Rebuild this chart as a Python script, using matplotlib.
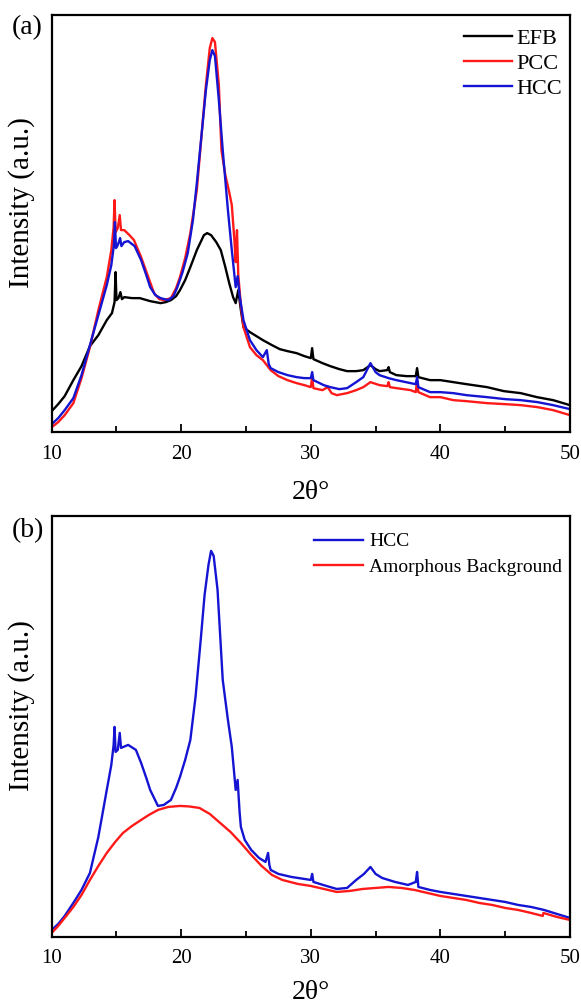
import numpy as np
import matplotlib
matplotlib.use("Agg")
import matplotlib.pyplot as plt
from matplotlib.ticker import MultipleLocator

plt.rcParams['font.family'] = ['Liberation Serif', 'DejaVu Serif']

# (a) XRD patterns, 2theta (deg) vs intensity (a.u.)
efb_x = [10.0, 10.5, 11.0, 11.67, 12.3, 12.95, 13.6, 14.25, 14.65, 14.85, 14.93, 15.0, 15.15, 15.3, 15.42,
         15.6, 16.2, 16.8, 17.6, 18.4, 18.8, 19.2, 19.6, 19.9, 20.3, 20.7, 21.2, 21.75, 22.0, 22.3, 22.7,
         23.05, 23.4, 23.7, 24.0, 24.2, 24.4, 24.6, 24.8, 25.3, 25.8, 26.3, 27.0, 27.6, 28.2, 28.9, 29.5,
         30.0, 30.1, 30.2, 30.9, 31.5, 32.2, 32.8, 33.5, 34.05, 34.6, 35.0, 35.3, 35.9, 36.0, 36.1, 36.6,
         37.4, 38.1, 38.2, 38.3, 39.2, 40.0, 41.0, 42.0, 43.6, 44.9, 46.2, 47.45, 48.7, 50.0]
efb_y = [21, 28, 36, 52, 66, 86, 97, 112, 119, 130, 160, 132, 134, 140, 133,
         135, 134, 134, 131, 129, 130, 132, 136, 142, 152, 165, 182, 197, 199, 197, 190,
         182, 165, 149, 135, 129, 142, 122, 105, 100, 96, 92, 87, 83, 81, 79, 76,
         74, 84, 73, 69, 66, 63, 61, 61, 62, 67, 63, 61, 62, 65, 60, 57,
         56, 56, 64, 55, 52, 52, 50, 48, 45, 41, 39, 35, 32, 27]

pcc_x = [10.0, 10.5, 11.0, 11.67, 12.3, 12.95, 13.6, 14.25, 14.6, 14.78, 14.85, 14.93, 15.1, 15.25, 15.35,
         15.6, 16.0, 16.35, 16.9, 17.4, 17.9, 18.3, 18.65, 19.2, 19.6, 19.9, 20.3, 20.7, 21.2, 21.6, 21.9,
         22.2, 22.4, 22.6, 22.9, 23.1, 23.4, 23.7, 23.9, 24.1, 24.2, 24.3, 24.4, 24.6, 24.8, 25.3, 25.8,
         26.3, 26.9, 27.5, 28.2, 28.9, 29.5, 30.0, 30.1, 30.2, 30.9, 31.3, 31.6, 32.0, 32.8, 33.5, 34.05,
         34.6, 35.3, 35.9, 36.0, 36.1, 36.6, 37.7, 38.1, 38.2, 38.3, 39.2, 40.0, 41.0, 42.0, 43.6, 45.0,
         46.2, 47.5, 48.7, 50.0]
pcc_y = [5, 10, 17, 29, 54, 85, 122, 155, 182, 205, 232, 200, 204, 217, 202,
         202, 197, 192, 175, 157, 139, 133, 132, 134, 144, 155, 174, 199, 242, 302, 347,
         384, 394, 390, 347, 282, 257, 240, 227, 192, 170, 202, 157, 127, 105, 85, 77,
         72, 62, 56, 52, 49, 47, 45, 55, 44, 42, 45, 39, 37, 39, 42, 45,
         50, 47, 46, 50, 45, 44, 42, 40, 52, 40, 35, 35, 32, 31, 29, 28,
         27, 25, 22, 17]

hcc_x = [10.0, 10.5, 11.0, 11.67, 12.3, 12.95, 13.6, 14.25, 14.6, 14.8, 14.88, 14.96, 15.1, 15.28, 15.38,
         15.6, 15.9, 16.4, 16.9, 17.3, 17.6, 18.0, 18.4, 19.0, 19.4, 19.7, 20.1, 20.5, 20.9, 21.2, 21.6,
         21.9, 22.2, 22.4, 22.6, 22.9, 23.2, 23.6, 23.9, 24.2, 24.35, 24.5, 24.8, 25.3, 25.8, 26.3, 26.6,
         26.75, 26.9, 27.5, 28.2, 28.9, 29.5, 30.0, 30.1, 30.2, 31.0, 31.5, 32.2, 32.8, 33.5, 34.05, 34.6,
         35.0, 35.3, 36.0, 36.6, 37.7, 38.1, 38.2, 38.3, 39.2, 40.0, 41.0, 42.0, 43.6, 45.0, 46.2, 47.5,
         48.7, 50.0]
hcc_y = [8, 14, 22, 34, 57, 87, 117, 147, 167, 187, 210, 184, 187, 194, 186,
         190, 191, 186, 172, 157, 145, 137, 134, 132, 136, 145, 160, 179, 212, 249, 302,
         342, 372, 382, 376, 332, 282, 222, 182, 145, 156, 137, 112, 92, 82, 75, 82,
         68, 64, 60, 57, 55, 54, 54, 60, 52, 47, 45, 43, 44, 50, 55, 69,
         60, 57, 54, 52, 49, 48, 55, 45, 40, 40, 39, 37, 35, 33, 32, 30,
         27, 23]

# (b) HCC with fitted amorphous background
hccb_x = [10.0, 10.5, 11.0, 11.67, 12.3, 12.95, 13.6, 14.25, 14.6, 14.78, 14.85, 14.93, 15.1, 15.25, 15.35,
          15.9, 16.5, 16.9, 17.3, 17.6, 18.2, 18.65, 19.2, 19.6, 19.9, 20.3, 20.7, 21.1, 21.5, 21.8,
          22.1, 22.3, 22.5, 22.8, 23.2, 23.6, 23.9, 24.2, 24.35, 24.5, 24.6, 24.9, 25.4, 26.0, 26.5,
          26.7, 26.8, 26.9, 27.5, 28.5, 29.5, 30.0, 30.1, 30.2, 31.2, 32.0, 32.8, 33.5, 34.1, 34.6,
          35.0, 35.5, 36.5, 37.5, 38.1, 38.2, 38.3, 39.2, 40.0, 41.0, 42.0, 43.5, 45.0, 46.0, 47.0,
          48.0, 49.0, 50.0]
hccb_y = [7, 13, 21, 34, 47, 64, 100, 147, 172, 192, 210, 185, 187, 204, 189,
          192, 187, 174, 159, 147, 131, 132, 137, 149, 160, 177, 197, 240, 297, 342,
          372, 386, 381, 347, 257, 217, 190, 147, 157, 125, 110, 97, 87, 79, 75,
          84, 72, 67, 63, 60, 58, 57, 63, 55, 51, 48, 49, 57, 63, 70,
          63, 59, 55, 52, 55, 65, 50, 47, 45, 43, 41, 38, 35, 32, 30,
          27, 23, 19]

amor_x = [10.0, 10.5, 11.0, 11.67, 12.3, 12.95, 13.6, 14.25, 14.9, 15.5, 16.2, 16.9, 17.5, 18.2, 19.0,
          19.9, 20.6, 21.4, 22.2, 23.0, 23.8, 24.6, 25.4, 26.2, 27.0, 27.8, 29.0, 30.0, 31.0, 32.0,
          33.0, 34.0, 35.0, 36.0, 37.0, 38.0, 39.0, 40.0, 41.0, 42.0, 43.0, 44.0, 45.0, 46.0, 47.0,
          47.9, 47.95, 49.0, 50.0]
amor_y = [4, 11, 19, 30, 42, 57, 71, 84, 95, 104, 111, 117, 122, 127, 130,
          131, 130.5, 129, 123, 114, 105, 94, 82, 71, 62, 57, 53, 51, 48, 45,
          46, 48, 49, 50, 49, 47, 44, 41, 39, 37, 34, 32, 29, 27, 24,
          21, 24, 20, 17]

blue = '#1414d2'
red = '#ff1a1a'

fig = plt.figure(figsize=(5.81, 10.05), dpi=100)
ax1 = fig.add_axes([0.089, 0.570, 0.892, 0.415])
ax2 = fig.add_axes([0.089, 0.0677, 0.892, 0.419])

ax1.plot(efb_x, efb_y, color='black', lw=1.7, label='EFB')
ax1.plot(pcc_x, pcc_y, color=red, lw=1.7, label='PCC')
ax1.plot(hcc_x, hcc_y, color=blue, lw=1.7, label='HCC')
ax1.set_ylim(0, 417)

ax2.plot(hccb_x, hccb_y, color=blue, lw=1.7, label='HCC')
ax2.plot(amor_x, amor_y, color=red, lw=1.7, label='Amorphous Background')
ax2.set_ylim(0, 421)

for ax in (ax1, ax2):
    ax.set_xlim(10, 50)
    ax.xaxis.set_major_locator(MultipleLocator(10))
    ax.xaxis.set_minor_locator(MultipleLocator(5))
    ax.set_yticks([])
    ax.tick_params(axis='x', which='both', direction='in', top=False, width=1.3, labelsize=15, pad=9)
    ax.tick_params(axis='x', which='major', length=6)
    ax.tick_params(axis='x', which='minor', length=4)
    for s in ax.spines.values():
        s.set_linewidth(1.6)
    ax.set_ylabel('Intensity (a.u.)', fontsize=21)
    ax.yaxis.set_label_coords(-0.032, 0.55)

ax1.set_xlabel('2θ°', fontsize=20, labelpad=12)
ax2.set_xlabel('2θ°', fontsize=20, labelpad=8)

ax1.legend(loc='upper right', bbox_to_anchor=(1.015, 1.006), frameon=False, fontsize=16,
           handlelength=2.15, handletextpad=0.2, labelspacing=0.2, borderpad=0.2)
ax2.legend(loc='upper right', bbox_to_anchor=(1.023, 1.006), frameon=False, fontsize=14,
           handlelength=2.5, handletextpad=0.35, labelspacing=0.42, borderpad=0.5)

fig.text(0.021, 0.973, '(a)', fontsize=20, va='center', ha='left')
fig.text(0.021, 0.472, '(b)', fontsize=20, va='center', ha='left')

fig.savefig('out.png', dpi=100, facecolor='white')
